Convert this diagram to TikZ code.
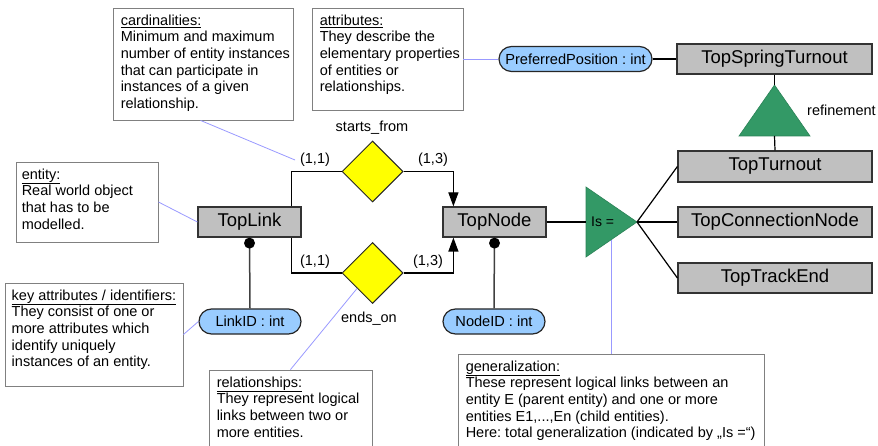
\documentclass[tikz,border=0pt]{standalone}
\usepackage{fontspec}
\setmainfont{Liberation Sans}
\usetikzlibrary{arrows.meta,shapes.geometric,calc}
\definecolor{entgray}{HTML}{C0C0C0}
\definecolor{attrblue}{HTML}{99CCFF}
\definecolor{relyellow}{HTML}{FFFF00}
\definecolor{isagreen}{HTML}{339966}
\definecolor{notecol}{HTML}{9999FF}
\definecolor{boxgray}{HTML}{808080}
\frenchspacing
\begin{document}
\begin{tikzpicture}[x=1pt,y=-1pt,
  entity/.style={draw=black!80, fill=entgray, line width=1.2pt, minimum height=30pt, inner sep=0pt, font=\fontsize{18.5}{20}\selectfont},
  attrib/.style={draw=black!85, fill=attrblue, line width=1.2pt, rounded corners=12.5pt, minimum height=25pt, inner sep=0pt, font=\fontsize{14.6}{16}\selectfont},
  relship/.style={diamond, draw=black!85, fill=relyellow, line width=1pt, minimum width=61pt, minimum height=61pt, inner sep=0pt},
  notebox/.style={draw=boxgray, fill=white, line width=0.9pt},
  notetext/.style={anchor=north west, inner sep=0pt, align=left, font=\fontsize{14.5}{16.6}\selectfont},
  lbl/.style={inner sep=0pt, font=\fontsize{14.5}{16}\selectfont},
  noteline/.style={draw=notecol, line width=0.8pt},
  conn/.style={draw=black, line width=1.2pt},
  keyline/.style={draw=black!75, line width=1.5pt},
  keydot/.style={fill=black},
  relarrow/.style={conn, -{Triangle[length=14pt,width=10pt]}},
  isatri/.style={fill=isagreen, draw=isagreen!85!black, line width=0.6pt}
]
\useasboundingbox (0,0) rectangle (878,446);

% entities
\node[entity, minimum width=103pt] (TopLink) at (249.5,222) {TopLink};
\node[entity, minimum width=103pt] (TopNode) at (494.5,222) {TopNode};
\node[entity, minimum width=195pt] (TopSpringTurnout) at (774.5,59) {TopSpringTurnout};
\node[entity, minimum width=194pt, minimum height=31pt] (TopTurnout) at (775,166.5) {TopTurnout};
\node[entity, minimum width=194pt] (TopConnectionNode) at (775,222) {TopConnectionNode};
\node[entity, minimum width=194pt] (TopTrackEnd) at (775,278) {TopTrackEnd};

% attributes
\node[attrib, minimum width=153pt] (PrefPos) at (575.5,59) {PreferredPosition : int};
\node[attrib, minimum width=102pt] (LinkID) at (250,321.5) {LinkID : int};
\node[attrib, minimum width=102pt] (NodeID) at (494,321.5) {NodeID : int};

% relationships
\node[relship] (sf) at (372.5,171.5) {};
\node[relship] (eo) at (372.5,273) {};
\node[lbl] (sflbl) at (372,128) {starts\_from};
\node[lbl] (eolbl) at (369,319) {ends\_on};
\node[lbl] (c11a) at (315,160) {(1,1)};
\node[lbl] (c13a) at (433,160) {(1,3)};
\node[lbl] (c11b) at (315,262) {(1,1)};
\node[lbl] (c13b) at (428,262) {(1,3)};

\draw[conn] ($(TopLink.north east)+(-10,0)$) |- (sf.west);
\draw[relarrow] (sf.east) -| ($(TopNode.north west)+(11,0)$);
\draw[conn] ($(TopLink.south east)+(-10,0)$) |- (eo.west);
\draw[relarrow] (eo.east) -| ($(TopNode.south west)+(11,0)$);

% key attributes
\draw[keyline] (LinkID.north) -- (TopLink.south);
\draw[keyline] (NodeID.north) -- (TopNode.south);
\fill[keydot] ($(TopLink.south)+(0,5.5)$) circle[radius=5.5pt];
\fill[keydot] ($(TopNode.south)+(0,5.5)$) circle[radius=5.5pt];
\draw[conn] (PrefPos.east) -- (TopSpringTurnout.west);

% generalization "Is ="
\coordinate (isTop) at (586,187);
\coordinate (isBot) at (586,257);
\coordinate (isApex) at (637,222);
\coordinate (isIn) at (586,222);
\draw[isatri] (isTop) -- (isApex) -- (isBot) -- cycle;
\node[lbl, anchor=west, font=\fontsize{14}{15}\selectfont] (islbl) at (591,222) {Is =};
\draw[conn] (TopNode.east) -- (isIn);
\draw[conn] (isApex) -- (TopTurnout.west);
\draw[conn] (isApex) -- (TopConnectionNode.west);
\draw[conn] (isApex) -- (TopTrackEnd.west);

% refinement
\coordinate (refApex) at (774.5,85);
\coordinate (refL) at (739,136);
\coordinate (refR) at (810,136);
\coordinate (refBase) at (774.5,136);
\draw[isatri] (refApex) -- (refR) -- (refL) -- cycle;
\draw[conn] (TopSpringTurnout.south) -- (refApex);
\draw[conn] (refBase) -- (TopTurnout.north);
\node[lbl, anchor=west] (reflbl) at (807,110) {refinement};

% note boxes
\node[notebox, minimum width=180pt, minimum height=112pt] (card) at (203,64) {};
\node[notetext] at ($(card.north west)+(8,7)$) {\underline{cardinalities:}\\Minimum and maximum\\number of entity instances\\that can participate in\\instances of a given\\relationship.};

\node[notebox, minimum width=151pt, minimum height=102pt] (attrbox) at (387.5,59) {};
\node[notetext] at ($(attrbox.north west)+(8,7)$) {\underline{attributes:}\\They describe the\\elementary properties\\of entities or\\relationships.};

\node[notebox, minimum width=142pt, minimum height=80pt] (entbox) at (87,202) {};
\node[notetext] at ($(entbox.north west)+(6,7)$) {\underline{entity:}\\Real world object\\that has to be\\modelled.};

\node[notebox, minimum width=178pt, minimum height=103pt] (keybox) at (94,334.5) {};
\node[notetext] at ($(keybox.north west)+(7,7)$) {\underline{key attributes / identifiers:}\\They consist of one or\\more attributes which\\identify uniquely\\instances of an entity.};

\node[notebox, minimum width=163pt, minimum height=84pt] (relbox) at (290.5,412) {};
\node[notetext] at ($(relbox.north west)+(8,7)$) {\underline{relationships:}\\They represent logical\\links between two or\\more entities.};

\node[notebox, minimum width=306pt, minimum height=98pt] (genbox) at (611,403) {};
\node[notetext] at ($(genbox.north west)+(8,7)$) {\underline{generalization:}\\These represent logical links between an\\entity E (parent entity) and one or more\\entities E1,...,En (child entities).\\Here: total generalization (indicated by „Is =“)};

% note connectors
\coordinate (cardEnd) at (295,160);
\draw[noteline] ([xshift=88pt]card.south west) -- (cardEnd);
\draw[noteline] (attrbox.east) -- (PrefPos.west);
\draw[noteline] (entbox.east) -- (TopLink.west);
\draw[noteline] (keybox.east) -- (LinkID.west);
\draw[noteline] (relbox.north) -- (eo.south west);
\draw[noteline] (genbox.north) -- (611,240);
\end{tikzpicture}
\end{document}
